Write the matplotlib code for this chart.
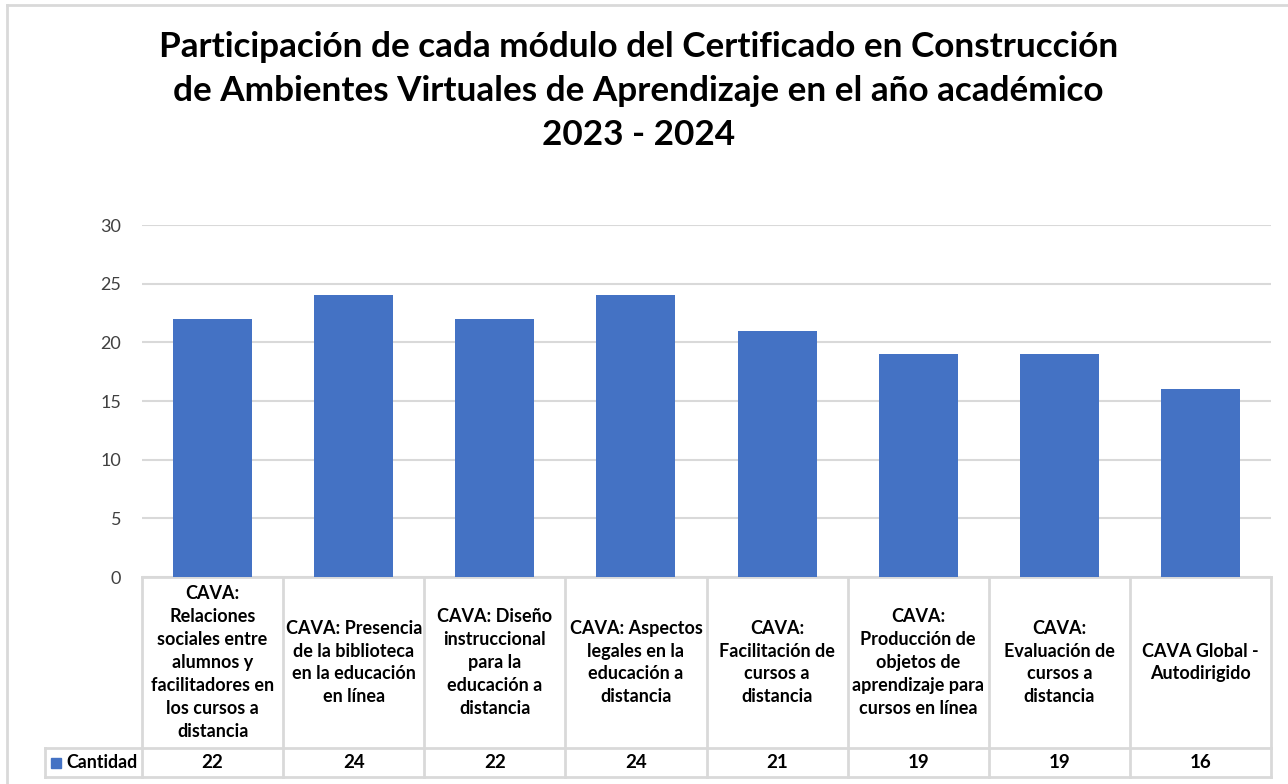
import matplotlib
matplotlib.use("Agg")
import matplotlib.pyplot as plt
from matplotlib.patches import Rectangle

# Datos del grafico
categorias = [
    "CAVA:\nRelaciones\nsociales entre\nalumnos y\nfacilitadores en\nlos cursos a\ndistancia",
    "CAVA: Presencia\nde la biblioteca\nen la educación\nen línea",
    "CAVA: Diseño\ninstruccional\npara la\neducación a\ndistancia",
    "CAVA: Aspectos\nlegales en la\neducación a\ndistancia",
    "CAVA:\nFacilitación de\ncursos a\ndistancia",
    "CAVA:\nProducción de\nobjetos de\naprendizaje para\ncursos en línea",
    "CAVA:\nEvaluación de\ncursos a\ndistancia",
    "CAVA Global -\nAutodirigido",
]
cantidad = [22, 24, 22, 24, 21, 19, 19, 16]
serie = "Cantidad"
titulo = ("Participación de cada módulo del Certificado en Construcción\n"
          "de Ambientes Virtuales de Aprendizaje en el año académico\n"
          "2023 - 2024")
y_ticks = [0, 5, 10, 15, 20, 25, 30]

BLUE = "#4472C4"
GRID = "#D9D9D9"
TXT = "#000000"
FONT = "Lato"

W, H = 1288, 784
fig = plt.figure(figsize=(W / 100, H / 100), dpi=100)

# area de trazado en pixeles
x0, x1 = 142, 1271
y_top, y_zero = 225, 577
y_head, y_bot = 748, 777
x_leg = 45

ax = fig.add_axes([x0 / W, 1 - y_zero / H, (x1 - x0) / W, (y_zero - y_top) / H])
n = len(cantidad)
xs = list(range(n))
ax.bar(xs, cantidad, width=0.56, color=BLUE, zorder=3)
ax.set_xlim(-0.5, n - 0.5)
ax.set_ylim(0, 30)
ax.set_yticks(y_ticks)
ax.set_yticklabels([str(t) for t in y_ticks], fontsize=13, color="#404040", family=FONT)
ax.tick_params(axis="y", length=0, pad=15)
ax.set_xticks([])
ax.grid(axis="y", color=GRID, linewidth=1.5, zorder=0)
for s in ["top", "right", "left", "bottom"]:
    ax.spines[s].set_visible(False)

# tabla de datos debajo
ph = y_zero - y_top
def fy(py):
    return -(py - y_zero) / ph
px_unit = (x1 - x0) / n
leg_x = -0.5 - (x0 - x_leg) / px_unit
tr = ax.get_xaxis_transform()
lk = dict(color=GRID, linewidth=2, transform=tr, clip_on=False)
ax.plot([-0.5, n - 0.5], [0, 0], **lk)
ax.plot([leg_x, n - 0.5], [fy(y_head), fy(y_head)], **lk)
ax.plot([leg_x, n - 0.5], [fy(y_bot), fy(y_bot)], **lk)
ax.plot([leg_x, leg_x], [fy(y_head), fy(y_bot)], **lk)
for i in range(n + 1):
    ax.plot([i - 0.5, i - 0.5], [0, fy(y_bot)], **lk)

for i, (lab, v) in enumerate(zip(categorias, cantidad)):
    ax.text(i, fy((y_zero + y_head) / 2), lab, transform=tr, ha="center", va="center",
            fontsize=13, fontweight="bold", color=TXT, family=FONT, linespacing=1.42,
            multialignment="center")
    ax.text(i, fy((y_head + y_bot) / 2), str(v), transform=tr, ha="center", va="center",
            fontsize=13.5, fontweight="bold", color=TXT, family=FONT)

# leyenda dentro de la tabla
yc = fy((y_head + y_bot) / 2)
ax.add_patch(Rectangle((leg_x + 6 / px_unit, yc - 5 / ph), 10 / px_unit, 10 / ph,
                       transform=tr, color=BLUE, clip_on=False))
ax.text(leg_x + 21 / px_unit, yc, serie, transform=tr, ha="left", va="center",
        fontsize=12.8, fontweight="bold", color=TXT, family=FONT)

# titulo
fig.text(0.5 * (160 + 1117) / W, 1 - 91 / H, titulo, ha="center", va="center",
         fontsize=25.3, fontweight="bold", color=TXT, family=FONT, linespacing=1.48)

# borde del grafico
fig.add_artist(plt.Line2D([7 / W, 1], [1 - 5 / H, 1 - 5 / H], color=GRID, linewidth=2))
fig.add_artist(plt.Line2D([7 / W, 7 / W], [1 - 5 / H, 0], color=GRID, linewidth=2))

fig.savefig("out.png", dpi=100)
